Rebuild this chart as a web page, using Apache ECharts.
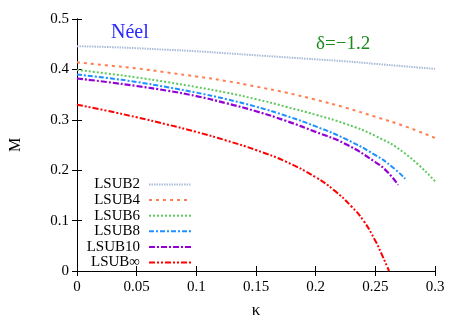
<!DOCTYPE html>
<html>
<head>
<meta charset="utf-8">
<script src="https://cdn.jsdelivr.net/npm/echarts@6/dist/echarts.min.js"></script>
<style>html,body{margin:0;padding:0;background:#fff}#c{width:463px;height:324px}</style>
</head>
<body>
<div id="c"></div>
<script>
var seriesNames = ['LSUB2', 'LSUB4', 'LSUB6', 'LSUB8', 'LSUB10', 'LSUB\u221e'];
var kappaFull = [0, 0.025, 0.05, 0.075, 0.1, 0.125, 0.15, 0.175, 0.2, 0.225, 0.25, 0.275, 0.3];
var mLSUB2 = [0.446, 0.4445, 0.442, 0.439, 0.436, 0.432, 0.428, 0.424, 0.420, 0.416, 0.411, 0.406, 0.401];
var mLSUB4 = [0.414, 0.408, 0.402, 0.394, 0.386, 0.377, 0.366, 0.354, 0.340, 0.324, 0.306, 0.287, 0.264];
var mLSUB6 = [0.399, 0.392, 0.384, 0.375, 0.365, 0.354, 0.341, 0.326, 0.310, 0.292, 0.268, 0.233, 0.178];
var kappaLSUB8 = [0, 0.025, 0.05, 0.075, 0.1, 0.125, 0.15, 0.175, 0.2, 0.225, 0.25, 0.265, 0.275];
var mLSUB8 = [0.390, 0.383, 0.375, 0.365, 0.354, 0.341, 0.326, 0.308, 0.287, 0.262, 0.230, 0.205, 0.183];
var kappaLSUB10 = [0, 0.025, 0.05, 0.075, 0.1, 0.125, 0.15, 0.175, 0.2, 0.225, 0.25, 0.26, 0.269];
var mLSUB10 = [0.382, 0.375, 0.367, 0.358, 0.347, 0.333, 0.317, 0.298, 0.276, 0.252, 0.216, 0.197, 0.171];
var kappaLSUBinf = [0, 0.025, 0.05, 0.075, 0.1, 0.125, 0.15, 0.175, 0.2, 0.215, 0.23, 0.24, 0.25, 0.255, 0.26, 0.2615];
var mLSUBinf = [0.330, 0.318, 0.305, 0.291, 0.276, 0.259, 0.240, 0.217, 0.186, 0.161, 0.128, 0.100, 0.060, 0.035, 0.008, 0.0];

var xs = [kappaFull, kappaFull, kappaFull, kappaLSUB8, kappaLSUB10, kappaLSUBinf];
var ys = [mLSUB2, mLSUB4, mLSUB6, mLSUB8, mLSUB10, mLSUBinf];
var colors = ['#a9bcd8', '#ff7f50', '#5fc95f', '#1e90ff', '#9400d3', '#ff0000'];
var dashes = [[1.5, 1], [3, 4], [2, 2], [5, 2, 2, 2], [6, 2, 2, 2], [6, 2, 2, 2, 2, 2]];
var widths = [2, 2, 2, 2, 2.2, 2];

function pairs(a, b) { return a.map(function (v, i) { return [v, b[i]]; }); }

var font = '"Liberation Serif", "Times New Roman", serif';
var series = seriesNames.map(function (n, i) {
  return {
    name: n, type: 'line', smooth: true, showSymbol: false, symbol: 'none',
    data: pairs(xs[i], ys[i]), z: 10 - i,
    lineStyle: { color: colors[i], width: widths[i], type: dashes[i] },
    itemStyle: { color: colors[i] }
  };
});

var chart = echarts.init(document.getElementById('c'));
chart.setOption({
  animation: false,
  backgroundColor: '#fff',
  textStyle: { fontFamily: font },
  grid: { left: 76, right: 28, top: 19, bottom: 50, containLabel: false },
  xAxis: [{
    type: 'value', min: 0, max: 0.3, interval: 0.05, position: 'bottom',
    name: '\u03ba', nameLocation: 'middle', nameGap: 31,
    nameTextStyle: { fontFamily: font, fontSize: 17, color: '#000' },
    axisLine: { lineStyle: { color: '#000', width: 1 } },
    axisTick: { inside: true, length: 5, lineStyle: { color: '#000' } },
    axisLabel: { fontFamily: font, fontSize: 15, color: '#000', margin: 9,
      formatter: function (v) { return +v.toFixed(2) + ''; } },
    splitLine: { show: false }
  }, {
    type: 'value', min: 0, max: 0.3, interval: 0.05, position: 'top',
    axisLine: { lineStyle: { color: '#000', width: 1 } },
    axisTick: { inside: true, length: 5, lineStyle: { color: '#000' } },
    axisLabel: { show: false }, splitLine: { show: false }
  }],
  yAxis: [{
    type: 'value', min: 0, max: 0.5, interval: 0.1, position: 'left',
    name: 'M', nameLocation: 'middle', nameGap: 53,
    nameTextStyle: { fontFamily: font, fontSize: 16, color: '#000' },
    axisLine: { show: true, lineStyle: { color: '#000', width: 1 } },
    axisTick: { show: true, inside: true, length: 5, lineStyle: { color: '#000' } },
    axisLabel: { fontFamily: font, fontSize: 15, color: '#000', margin: 8,
      formatter: function (v) { return +v.toFixed(1) + ''; } },
    splitLine: { show: false }
  }, {
    type: 'value', min: 0, max: 0.5, interval: 0.1, position: 'right',
    axisLine: { show: true, lineStyle: { color: '#000', width: 1 } },
    axisTick: { show: true, inside: true, length: 5, lineStyle: { color: '#000' } },
    axisLabel: { show: false }, splitLine: { show: false }
  }],
  legend: {
    orient: 'vertical', left: 82, top: 177, align: 'right', padding: 0,
    itemWidth: 42, itemHeight: 10, itemGap: 0.6,
    itemStyle: { opacity: 0, borderWidth: 0 },
    textStyle: { fontFamily: font, fontSize: 15, lineHeight: 15, color: '#000', width: 58, align: 'right', padding: [0, 4, 0, 0] },
    data: seriesNames
  },
  graphic: [
    { type: 'text', left: 111, top: 23, style: { text: 'N\u00e9el', fontFamily: font, fontSize: 20, fill: '#2a2aff' } },
    { type: 'text', left: 316, top: 35, style: { text: '\u03b4=\u22121.2', fontFamily: font, fontSize: 19, fill: '#1a8a1a' } }
  ],
  series: series
});
</script>
</body>
</html>
